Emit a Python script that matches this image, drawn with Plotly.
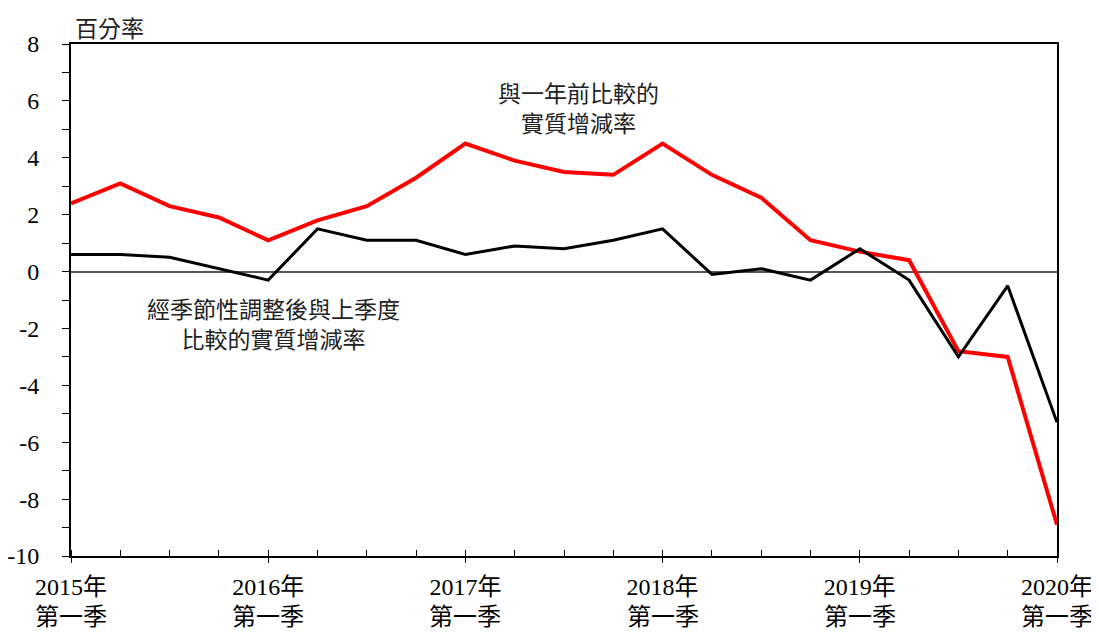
import plotly.graph_objects as go

quarters = list(range(21))
yoy = [2.4, 3.1, 2.3, 1.9, 1.1, 1.8, 2.3, 3.3, 4.5, 3.9, 3.5, 3.4,
       4.5, 3.4, 2.6, 1.1, 0.7, 0.4, -2.8, -3.0, -8.9]
qoq = [0.6, 0.6, 0.5, 0.1, -0.3, 1.5, 1.1, 1.1, 0.6, 0.9, 0.8, 1.1,
       1.5, -0.1, 0.1, -0.3, 0.8, -0.3, -3.0, -0.5, -5.3]
tick_pos = [0, 4, 8, 12, 16, 20]
year_text = ["2015年", "2016年", "2017年", "2018年", "2019年", "2020年"]
quarter_text = "第一季"
y_ticks = [-10, -8, -6, -4, -2, 0, 2, 4, 6, 8]

font = "Liberation Serif, Times New Roman, Noto Sans CJK TC"

fig = go.Figure()
fig.add_trace(go.Scatter(x=quarters, y=yoy, mode="lines",
                         line=dict(color="#ff0000", width=4)))
fig.add_trace(go.Scatter(x=quarters, y=qoq, mode="lines",
                         line=dict(color="#000000", width=3)))

fig.add_annotation(x=10.3, y=5.7, text="與一年前比較的<br>實質增減率", showarrow=False,
                   font=dict(size=23, color="#222"))
fig.add_annotation(x=4.1, y=-1.9, text="經季節性調整後與上季度<br>比較的實質增減率",
                   showarrow=False, font=dict(size=23, color="#222"))
fig.add_annotation(x=0, y=1, xref="paper", yref="paper", xanchor="left", yanchor="bottom",
                   xshift=2, yshift=0, text="百分率", showarrow=False,
                   font=dict(size=23, color="#222"))
# second line of the x tick labels
for p in tick_pos:
    fig.add_annotation(x=p, y=0, yref="paper", yanchor="middle", yshift=-61,
                       text=quarter_text, showarrow=False,
                       font=dict(size=24, color="black"))

# page body has an 8px margin, so the figure is a bit smaller than the window
fig.update_layout(
    width=1091, height=627,
    margin=dict(l=63, r=42, t=36, b=79),
    paper_bgcolor="white", plot_bgcolor="white",
    showlegend=False,
    font=dict(family=font, size=24, color="black"),
)
fig.update_xaxes(range=[0, 20], tickvals=tick_pos, ticktext=year_text, automargin=False,
                 showgrid=False, zeroline=False, showline=True, linecolor="black",
                 linewidth=2, mirror=True, ticks="outside", ticklen=5, tickcolor="black",
                 ticklabelstandoff=3,
                 minor=dict(dtick=1, tick0=0, ticks="inside", ticklen=6, tickcolor="black"))
fig.update_yaxes(range=[-10, 8], tickvals=y_ticks, ticktext=[str(v) for v in y_ticks],
                 automargin=False, showgrid=False, zeroline=True,
                 zerolinecolor="#555", zerolinewidth=1.5,
                 showline=True, linecolor="black", linewidth=2, mirror=True,
                 ticks="outside", ticklen=7, tickcolor="black", ticklabelstandoff=18,
                 minor=dict(dtick=1, ticks="outside", ticklen=7, tickcolor="black"))

fig.write_html("out.html")
